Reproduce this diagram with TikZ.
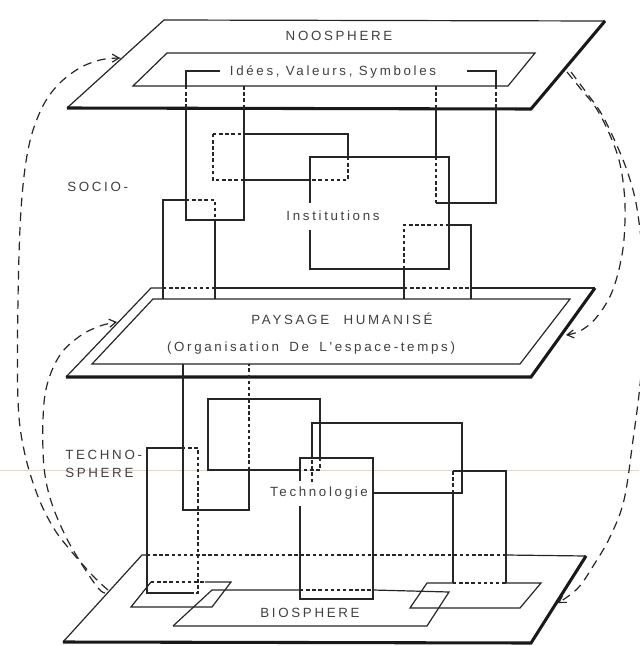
\documentclass[tikz,border=0pt]{standalone}
\usepackage{fontspec}
\setmainfont{Liberation Sans}
\newfontfamily\lab[LetterSpace=20]{Liberation Sans}
\usetikzlibrary{arrows.meta}
\begin{document}
\begin{tikzpicture}[x=0.75pt,y=-0.75pt,
  ln/.style={line width=0.9pt, draw=black!85, line join=miter},
  hid/.style={line width=0.9pt, draw=black!85, dash pattern=on 2.6pt off 2pt},
  thk/.style={line width=2.3pt, draw=black!90, line join=miter},
  arcd/.style={line width=0.9pt, draw=black!85, dash pattern=on 6.5pt off 4.5pt},
  tip/.style={-{Straight Barb[length=5pt,width=6pt]}},
  lbl/.style={font={\lab\fontsize{10}{12}\selectfont}, text=black!75, inner sep=0pt}]
\useasboundingbox (0,0) rectangle (639,646);
\fill[white] (0,0) rectangle (639,646);
% faint scan line
\draw[draw={rgb,255:red,238;green,214;blue,180}, line width=0.4pt] (0,470) -- (639,470);

% ---------- NOOSPHERE ----------
\coordinate (N1) at (164,20); \coordinate (N2) at (605,21);
\coordinate (N3) at (531,109); \coordinate (N4) at (67,108);
\draw[ln] (N4) -- (N1) -- (N2);
\draw[thk] (N2) -- (N3) -- (N4);
\coordinate (I1) at (167,53); \coordinate (I2) at (535,53);
\coordinate (I3) at (508,86); \coordinate (I4) at (133,86);
\draw[ln] (I1) -- (I2) -- (I3) -- (I4) -- cycle;
\node[lbl] (noo) at (339,36) {NOOSPHERE};
\node[lbl] (ivs) at (333,72) {Idées, Valeurs, Symboles};

% left loop
\draw[ln] (220,71) -- (186,71) -- (186,86);
\draw[hid] (186,86) -- (186,108);
\draw[ln] (186,108) -- (186,220) -- (244,220) -- (244,108);
\draw[hid] (244,108) -- (244,86);
% right loop
\draw[ln] (467,71) -- (496,71) -- (496,86);
\draw[hid] (496,86) -- (496,108);
\draw[ln] (496,108) -- (496,203) -- (436,203);
\draw[hid] (436,203) -- (436,157);
\draw[ln] (436,157) -- (436,108);
\draw[hid] (436,108) -- (436,86);

% dashed rectangle
\draw[hid] (213,134) -- (244,134);
\draw[ln] (244,134) -- (348,134) -- (348,157);
\draw[hid] (348,157) -- (348,180) -- (310,180);
\draw[ln] (310,180) -- (244,180);
\draw[hid] (244,180) -- (213,180) -- (213,134);

% institutions rectangle
\draw[ln] (310,203) -- (310,157) -- (449,157) -- (449,269) -- (310,269) -- (310,230);
\node[lbl] (inst) at (333,216) {Institutions};

% left post
\draw[ln] (163,299) -- (163,200) -- (186,200);
\draw[hid] (186,200) -- (215,200) -- (215,220);
\draw[ln] (215,220) -- (215,299);
% right post
\draw[ln] (404,299) -- (404,269);
\draw[hid] (404,269) -- (404,225) -- (449,225);
\draw[ln] (449,225) -- (471,225) -- (471,299);

\node[lbl, anchor=west] (socio) at (67,187) {SOCIO-};

% ---------- PAYSAGE ----------
\coordinate (P1) at (151,288); \coordinate (P2) at (595,288);
\coordinate (P3) at (531,377); \coordinate (P4) at (66,377);
\draw[ln] (P4) -- (P1) -- (163,288);
\draw[hid] (163,288) -- (215,288);
\draw[ln] (215,288) -- (404,288);
\draw[hid] (404,288) -- (471,288);
\draw[ln] (471,288) -- (P2);
\draw[thk] (P2) -- (P3) -- (P4);
\coordinate (Q1) at (153,299); \coordinate (Q2) at (570,299);
\coordinate (Q3) at (520,364); \coordinate (Q4) at (92,364);
\draw[ln] (Q1) -- (Q2) -- (Q3) -- (Q4) -- cycle;
\node[lbl] (pay) at (342,319) {PAYSAGE\hspace{6pt} HUMANISÉ};
\node[lbl] (org) at (311,348) {(Organisation\hspace{3pt} De\hspace{3pt} L'espace-temps)};

% ---------- TECHNOSPHERE ----------
% U loop from paysage
\draw[ln] (183,364) -- (183,510) -- (249,510) -- (249,470);
\draw[hid] (249,470) -- (249,364);
% rect A
\draw[ln] (300,470) -- (208,470) -- (208,399) -- (320,399) -- (320,458);
\draw[hid] (320,458) -- (320,470) -- (300,470);
% rect B
\draw[hid] (312,482) -- (312,458);
\draw[ln] (312,458) -- (312,423) -- (462,423) -- (462,493) -- (373,493);
% post C
\draw[ln] (300,481) -- (300,458) -- (373,458) -- (373,599) -- (300,599) -- (300,506);
\node[lbl] (tech) at (319,493) {Technologie};
% post R
\draw[ln] (453,583) -- (453,493);
\draw[hid] (453,493) -- (453,471);
\draw[ln] (453,471) -- (506,471) -- (506,583);
% post L2
\draw[ln] (182,448) -- (147,448) -- (147,593) -- (193,593);
\draw[hid] (182,448) -- (198,448) -- (198,593) -- (193,593);

\node[lbl, anchor=west] (techno) at (65,455) {TECHNO-};
\node[lbl, anchor=west] (sphere) at (65,473) {SPHERE};

% ---------- BIOSPHERE ----------
\coordinate (B1) at (142,555); \coordinate (B2) at (586,556);
\coordinate (B3) at (531,643); \coordinate (B4) at (63,642);
\draw[ln] (B4) -- (B1) -- (147,555);
\draw[hid] (147,555) -- (506,555);
\draw[ln] (506,555) -- (B2);
\draw[thk] (B2) -- (B3) -- (B4);
% pad 1
\draw[hid] (151,582) -- (205,582);
\draw[ln] (205,582) -- (231,582) -- (212,607) -- (131,607) -- (151,582);
% plate
\draw[ln] (173,626) -- (212,590) -- (300,590);
\draw[hid] (300,590) -- (373,590);
\draw[ln] (373,590) -- (449,592) -- (427,626) -- (173,626);
% pad 2
\draw[ln] (453,583) -- (427,583) -- (410,608) -- (520,608) -- (541,583) -- (506,583);
\draw[hid] (453,583) -- (506,583);
\node[lbl] (bio) at (310,613) {BIOSPHERE};

% ---------- feedback arcs ----------
\coordinate (la0) at (108,590); \coordinate (la1) at (120,58);
\coordinate (lb0) at (105,593); \coordinate (lb1) at (117,322);
\draw[arcd, tip] plot[smooth, tension=0.6] coordinates {(la0) (94,577) (71,551) (53,527) (37,494) (24,450) (18,400) (18,300) (21,210) (28,150) (40,112) (56,87) (78,69) (100,60) (la1)};
\draw[arcd, tip] plot[smooth, tension=0.6] coordinates {(lb0) (98,588) (81,563) (65,535) (51,501) (44,467) (43,420) (47,385) (60,355) (80,336) (100,326) (lb1)};

\coordinate (ra0) at (567,72); \coordinate (ra1) at (566,335);
\coordinate (rb0) at (571,72); \coordinate (rb1) at (558,603);
\draw[arcd, tip] plot[smooth, tension=0.6] coordinates {(ra0) (580,88) (596,108) (609,133) (619,160) (624,190) (625,220) (622,255) (612,292) (596,318) (580,331) (ra1)};
\draw[arcd, tip] plot[smooth, tension=0.6] coordinates {(rb0) (586,92) (601,113) (614,139) (625,165) (633,190) (638,215) (643,260) (645,320) (640,385) (633,440) (624,500) (610,537) (595,563) (578,588) (rb1)};
\end{tikzpicture}
\end{document}
